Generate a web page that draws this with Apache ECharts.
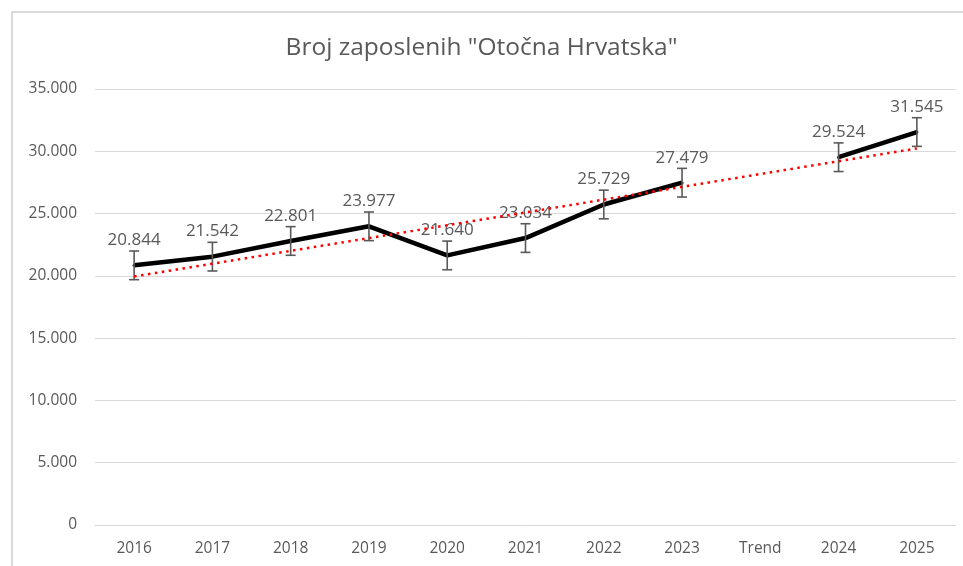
<!DOCTYPE html>
<html>
<head>
<meta charset="utf-8">
<script src="https://cdn.jsdelivr.net/npm/echarts@6/dist/echarts.min.js"></script>
<style>
  html, body { margin: 0; padding: 0; background: #fff; }
  #chart { width: 963px; height: 566px; }
</style>
</head>
<body>
<div id="chart"></div>
<script>
// kategorije na osi x (Trend je prazno mjesto)
const years = ['2016', '2017', '2018', '2019', '2020', '2021', '2022', '2023', 'Trend', '2024', '2025'];
// broj zaposlenih
const employed = [20844, 21542, 22801, 23977, 21640, 23034, 25729, 27479, null, 29524, 31545];
// standardna greska (+/-), ocitano sa slike
const errors = [1150, 1150, 1150, 1150, 1150, 1150, 1150, 1150, null, 1150, 1150];
// linearni trend, krajnje tocke ocitane sa slike
const trend = [19950, null, null, null, null, null, null, null, null, null, 30230];
const yTicks = [0, 5000, 10000, 15000, 20000, 25000, 30000, 35000];

const grey = '#595959';
const fontFam = '"Open Sans", "Noto Sans", sans-serif';

function fmt(v) {
  return String(v).replace(/\B(?=(\d{3})+(?!\d))/g, '.');
}

let errData = [];
for (let i = 0; i < years.length; i++) {
  if (employed[i] != null) {
    errData.push([i, employed[i] - errors[i], employed[i] + errors[i]]);
  }
}

let EChart = echarts.init(document.getElementById('chart'));
let option = {
  backgroundColor: '#fff',
  animation: false,
  textStyle: { fontFamily: fontFam },
  title: {
    text: 'Broj zaposlenih "Otočna Hrvatska"',
    left: 'center',
    top: 31,
    textStyle: { fontSize: 24.5, fontWeight: 'normal', color: grey, fontFamily: fontFam }
  },
  graphic: [{
    type: 'rect',
    shape: { x: 12, y: 12, width: 1000, height: 600 },
    style: { fill: 'none', stroke: '#d9d9d9', lineWidth: 2 },
    silent: true
  }],
  grid: { left: 95, right: 7, top: 89, bottom: 41 },
  xAxis: {
    type: 'category',
    data: years,
    boundaryGap: true,
    axisTick: { show: false },
    axisLine: { lineStyle: { color: '#d9d9d9', width: 1 } },
    axisLabel: { color: grey, fontSize: 15.5, margin: 16, fontFamily: fontFam }
  },
  yAxis: {
    type: 'value',
    min: yTicks[0],
    max: yTicks[yTicks.length - 1],
    interval: 5000,
    axisLine: { show: false },
    axisTick: { show: false },
    splitLine: { lineStyle: { color: '#d9d9d9', width: 1 } },
    axisLabel: { color: grey, fontSize: 15.5, margin: 18, fontFamily: fontFam, formatter: fmt }
  },
  series: [
    {
      name: 'Zaposleni',
      type: 'line',
      data: employed,
      connectNulls: false,
      symbol: 'circle',
      symbolSize: 3,
      itemStyle: { color: '#000' },
      lineStyle: { color: '#000', width: 4.5 },
      z: 2,
      label: {
        show: true,
        position: 'top',
        distance: 15,
        color: grey,
        fontSize: 17,
        fontFamily: fontFam,
        formatter: p => fmt(p.value)
      }
    },
    {
      name: 'Greska',
      type: 'custom',
      data: errData,
      z: 3,
      renderItem(params, api) {
        let top = api.coord([api.value(0), api.value(2)]);
        let bot = api.coord([api.value(0), api.value(1)]);
        let w = 5;
        let st = { stroke: grey, lineWidth: 1.6, fill: 'none' };
        return {
          type: 'group',
          children: [
            { type: 'line', shape: { x1: top[0], y1: top[1], x2: bot[0], y2: bot[1] }, style: st },
            { type: 'line', shape: { x1: top[0] - w, y1: top[1], x2: top[0] + w, y2: top[1] }, style: st },
            { type: 'line', shape: { x1: bot[0] - w, y1: bot[1], x2: bot[0] + w, y2: bot[1] }, style: st }
          ]
        };
      }
    },
    {
      name: 'Trend',
      type: 'line',
      data: trend,
      connectNulls: true,
      symbol: 'none',
      z: 4,
      lineStyle: { color: '#ff0000', width: 2.5, type: [2.5, 4.5] }
    }
  ]
};
EChart.setOption(option);
</script>
</body>
</html>
